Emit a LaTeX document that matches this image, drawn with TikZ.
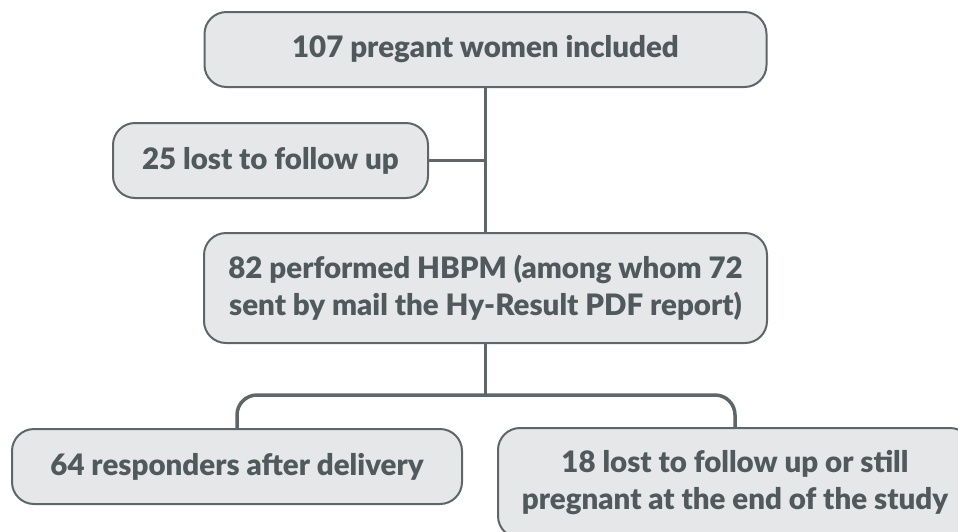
\documentclass[tikz,border=0pt]{standalone}
\usepackage{fontspec}
\setmainfont{Lato}[BoldFont={Lato Black}]
\usetikzlibrary{positioning}
\definecolor{boxfill}{HTML}{E6E7E8}
\definecolor{boxline}{HTML}{5E6669}
\definecolor{txtgrey}{HTML}{505A5D}
\tikzset{flowbox/.style={rectangle,rounded corners=22pt,draw=boxline,fill=boxfill,line width=2pt,
  text=txtgrey,font=\fontsize{29.5}{37}\selectfont\bfseries,align=center,inner sep=0pt}}
\tikzset{link/.style={draw=boxline,line width=3.5pt}}

\begin{document}
\begin{tikzpicture}[x=1pt,y=-1pt]
\useasboundingbox (0,0) rectangle (958,531);
\clip (0,0) rectangle (958,531);
%
{
\node (incl) [flowbox,minimum width=562pt,minimum height=75pt] at (485.5,49.5) {107 pregant women included};
\node (lost) [flowbox,minimum width=315pt,minimum height=75pt] at (270.5,160.5) {25 lost to follow up};
\node (hbpm) [flowbox,minimum width=563pt,minimum height=110pt] at (485.5,288) {82 performed HBPM (among whom 72\\sent by mail the Hy-Result PDF report)};
}
%
{
\node (resp) [flowbox,minimum width=450pt,minimum height=75pt] at (237,466.5) {64 responders after delivery};
\node (rest) [flowbox,minimum width=474pt,minimum height=110pt] at (735,483) {18 lost to follow up or still\\pregnant at the end of the study};
}
%
{
\coordinate (split) at (485.5,395);
\path[link] (incl) -- (hbpm);
\path[link] (lost.east) -- (lost.east -| incl.south);
\path[link] (hbpm) -- (split);
\path[link,rounded corners=20pt] (resp.north) |- (split) -| (rest.north);
}
\end{tikzpicture}
\end{document}
